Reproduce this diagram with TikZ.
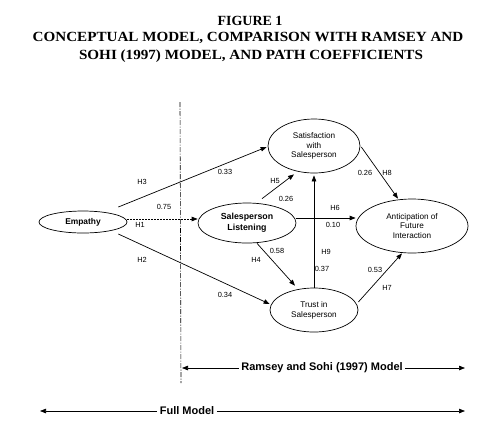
\documentclass[tikz,border=0pt]{standalone}
\usepackage{fontspec}
\setmainfont{Liberation Serif}
\setsansfont{Liberation Sans}
\usetikzlibrary{arrows.meta,shapes.geometric}
\begin{document}
\begin{tikzpicture}[x=1pt,y=-1pt,
  var/.style={ellipse,draw,line width=0.7pt,inner sep=0pt,align=center,font=\sffamily\fontsize{8.2}{9.8}\selectfont},
  varb/.style={var,font=\sffamily\bfseries\fontsize{8.8}{10.8}\selectfont},
  lab/.style={font=\sffamily\fontsize{7.4}{8}\selectfont,inner sep=0pt},
  arr/.style={-{Triangle[length=6pt,width=4.5pt]},line width=0.7pt},
  ttl/.style={font=\bfseries\fontsize{14}{16}\selectfont,inner sep=0pt},
  span/.style={font=\sffamily\bfseries\fontsize{11}{12}\selectfont,inner sep=2.5pt},
  dashdot/.style={line width=0.6pt,dash pattern=on 5pt off 1.5pt on 1pt off 1.5pt}]
\useasboundingbox[fill=white] (0,0) rectangle (500,432);
% title
\node[ttl] (t1) at (250,21) {FIGURE 1};
\node[ttl] (t2) at (248,38) {\scalebox{1.08}[1]{CONCEPTUAL MODEL, COMPARISON WITH RAMSEY AND}};
\node[ttl] (t3) at (251,56) {\scalebox{1.08}[1]{SOHI (1997) MODEL, AND PATH COEFFICIENTS}};
% variables
\node[var,minimum width=88,minimum height=22,font=\sffamily\bfseries\fontsize{8.4}{9}\selectfont] (emp) at (83,222) {Empathy};
\node[varb,minimum width=98,minimum height=40] (lis) at (247,223) {Salesperson\\Listening};
\node[var,minimum width=92,minimum height=54] (sat) at (314,146) {Satisfaction\\with\\Salesperson};
\node[var,minimum width=112,minimum height=54] (ant) at (412,226) {Anticipation of\\Future\\Interaction};
\node[var,minimum width=88,minimum height=44] (tru) at (314,310) {Trust in\\Salesperson};
% divider
\coordinate (vt) at (180,102);
\coordinate (vb) at (181,383);
\draw[dashdot] (vt) -- (vb);
% paths
\draw[arr] ([shift={(-9pt,15pt)}]emp.east) -- ([shift={(-1pt,-1pt)}]sat.west);
\draw[arr,dash pattern=on 2pt off 1pt] ([yshift=3pt]emp.east) -- ([yshift=4pt]lis.west);
\draw[arr] ([shift={(-9pt,-12pt)}]emp.east) -- ([yshift=6pt]tru.west);
\draw[arr] ([shift={(15pt,4pt)}]lis.north) -- ([shift={(-20pt,-1pt)}]sat.south);
\draw[arr] ([yshift=5pt]lis.east) -- ([yshift=8pt]ant.west);
\draw[arr] ([xshift=10pt]lis.south) -- ([shift={(-19pt,2pt)}]tru.north);
\draw[arr] (tru.north) -- ([yshift=-2pt]sat.south);
\draw[arr] ([shift={(1pt,-1pt)}]sat.east) -- ([xshift=-14pt]ant.north);
\draw[arr] ([yshift=8pt]tru.east) -- ([xshift=-10pt]ant.south);
% labels
\node[lab] (h3) at (142,182) {H3};
\node[lab] (c33) at (225,172) {0.33};
\node[lab] (c75) at (164,207) {0.75};
\node[lab] (h1) at (140,225) {H1};
\node[lab] (h2) at (142,260) {H2};
\node[lab] (c34) at (225,295) {0.34};
\node[lab] (h5) at (275,181) {H5};
\node[lab] (c26a) at (286,199) {0.26};
\node[lab] (h6) at (335,208) {H6};
\node[lab] (c10) at (333,225) {0.10};
\node[lab] (c58) at (277,251) {0.58};
\node[lab] (h4) at (256,260) {H4};
\node[lab] (h9) at (326,252) {H9};
\node[lab] (c37) at (322,269) {0.37};
\node[lab] (c26b) at (365,173) {0.26};
\node[lab] (h8) at (387,173) {H8};
\node[lab] (c53) at (375,270) {0.53};
\node[lab] (h7) at (387,288) {H7};
% spans
\node[span] (rs) at (322,368) {Ramsey and Sohi (1997) Model};
\coordinate (rl) at (182,368);
\coordinate (rr) at (465,368);
\draw[arr] (rs) -- (rl);
\draw[arr] (rs) -- (rr);
\node[span] (fm) at (187,411) {Full Model};
\coordinate (fl) at (40,411);
\coordinate (fr) at (465,411);
\draw[arr] (fm) -- (fl);
\draw[arr] (fm) -- (fr);
\end{tikzpicture}
\end{document}
